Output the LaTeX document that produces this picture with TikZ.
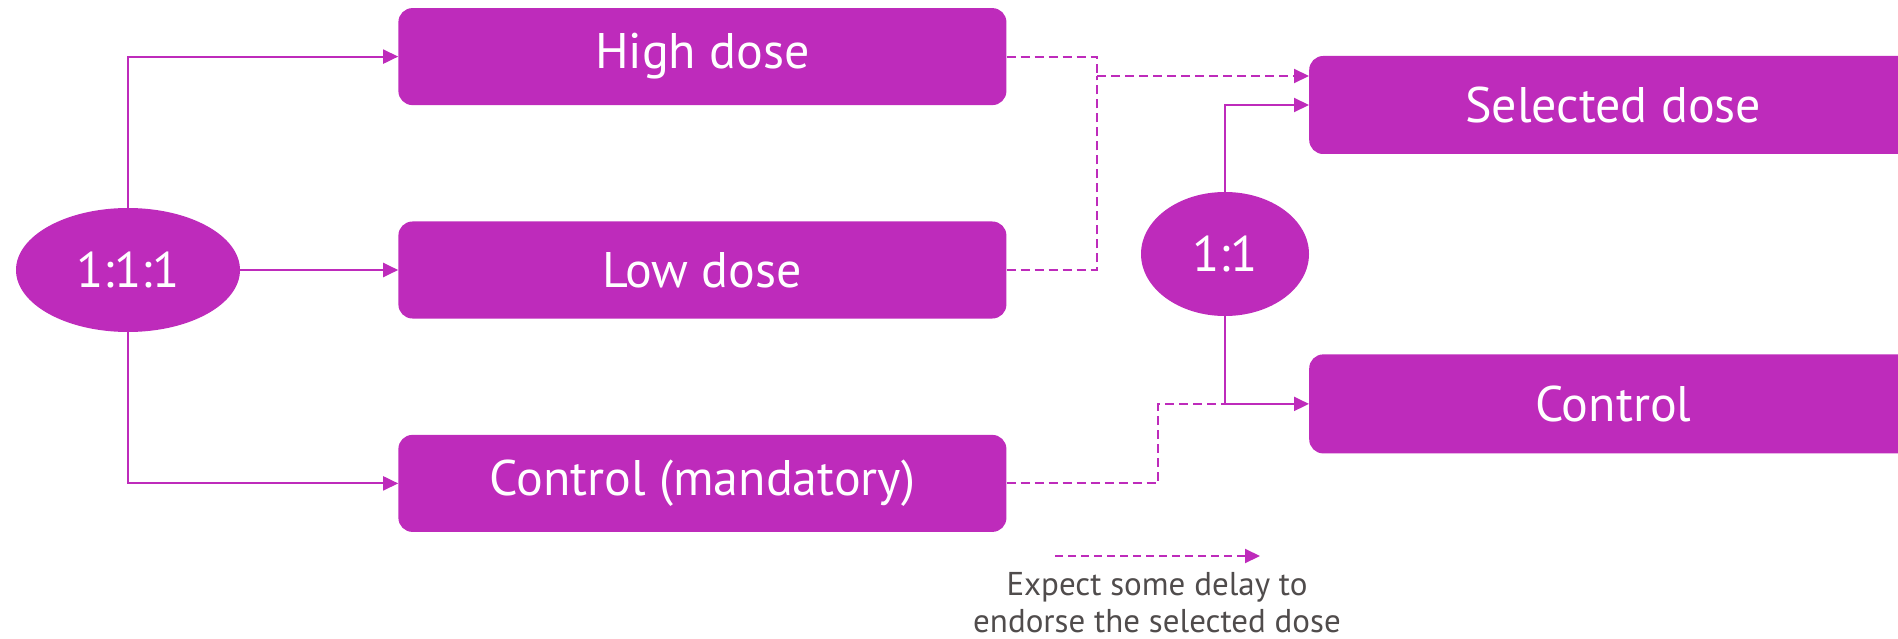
\documentclass[tikz,border=0pt]{standalone}
\usepackage{fontspec}
\setmainfont{PT Sans}
\usetikzlibrary{shapes.geometric, arrows.meta, positioning, calc}
\definecolor{plum}{RGB}{190,43,187}
\definecolor{notegray}{RGB}{80,76,76}

\begin{document}
\begin{tikzpicture}[
    x=1pt, y=1pt,
    node distance=116pt and 158pt,
    box/.style={rectangle, fill=plum, text=white, rounded corners=14pt, minimum width=608pt, minimum height=97pt, inner sep=0pt, font=\fontsize{50}{60}\selectfont},
    ratio/.style={ellipse, fill=plum, text=white, inner sep=0pt, font=\fontsize{50}{60}\selectfont},
    link/.style={line width=2pt, draw=plum},
    arrow/.style={link, -{Triangle[length=15pt, width=14pt]}},
    delay/.style={dash pattern=on 9pt off 5pt}
]
\useasboundingbox (0,0) rectangle (1898,-639);
\clip (0,0) rectangle (1898,-639);

% Randomisation 1:1:1
\node[ratio, minimum width=224pt, minimum height=124pt] (r111) at (128,-270) {1:1:1};
\node[box, right=of r111] (low) {Low dose};
\node[box, above=of low] (high) {High dose};
\node[box, below=of low] (ctrlm) {Control (mandatory)};

% Randomisation 1:1
\node[ratio, minimum width=168pt, minimum height=124pt] (r11) at (1225,-254) {1:1};
\node[box, anchor=west, minimum width=700pt, minimum height=98pt] (sel) at (1309,-105) {\makebox[608pt]{Selected dose}\hspace*{92pt}};
\node[box, below=200pt of sel, minimum width=700pt, minimum height=99pt] (ctrl) {\makebox[608pt]{Control}\hspace*{92pt}};

% Flechas
\draw[arrow] (r111.north) |- (high.west);
\draw[arrow] (r111) -- (low);
\draw[arrow] (r111.south) |- (ctrlm.west);
\draw[arrow] (r11.north) |- (sel.west);
\draw[arrow] (r11.south) |- (ctrl.west);

% Delayed endorsement
\path (sel.west) ++(-212,29) coordinate (merge);
\path (ctrl.west) ++(-151,0) coordinate (bend);
\draw[link, delay] (high.east) -| (merge);
\draw[link, delay] (low.east) -| (merge);
\draw[arrow, delay] (merge) -- (merge -| sel.west);
\draw[link, delay] (ctrlm.east) -| (bend) -- (bend -| r11.south);

% Legend
\coordinate (keyL) at (1055,-556);
\coordinate (keyR) at (1260,-556);
\draw[arrow, dash pattern=on 8pt off 5pt] (keyL) -- (keyR);
\node[text=notegray, align=center, font=\fontsize{33}{37}\selectfont] (note) at (1157,-603) {Expect some delay to\\endorse the selected dose};

\end{tikzpicture}
\end{document}
